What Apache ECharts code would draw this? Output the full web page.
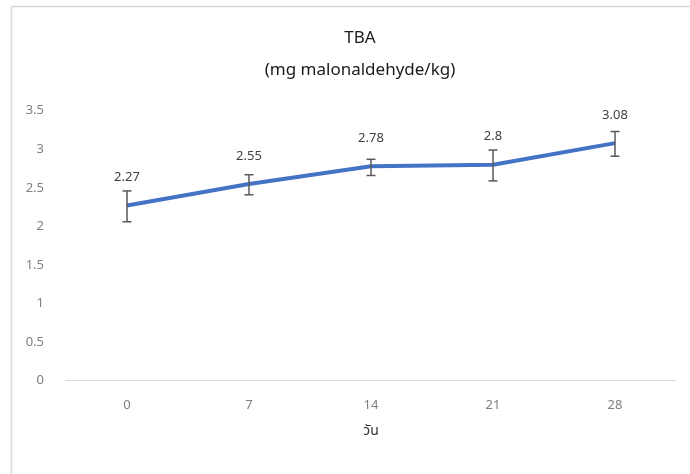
<!DOCTYPE html>
<html>
<head>
<meta charset="utf-8">
<script src="https://cdn.jsdelivr.net/npm/echarts@6/dist/echarts.min.js"></script>
<style>html,body{margin:0;padding:0;background:#fff;}#c{width:690px;height:474px;}</style>
</head>
<body>
<div id="c"></div>
<script>
const categories = ['0', '7', '14', '21', '28'];
const tbaValues = [2.27, 2.55, 2.78, 2.8, 3.08];
const errLow = [2.06, 2.41, 2.66, 2.59, 2.91];
const errHigh = [2.46, 2.67, 2.87, 2.99, 3.23];
const yTicks = [0, 0.5, 1, 1.5, 2, 2.5, 3, 3.5];

const chart = echarts.init(document.getElementById('c'));
const font = '"Noto Sans", "Noto Sans Thai", sans-serif';
chart.setOption({
  animation: false,
  backgroundColor: '#fff',
  graphic: [
    { type: 'line', shape: { x1: 11.5, y1: 6.5, x2: 690, y2: 6.5 }, style: { stroke: '#d9d9d9', lineWidth: 1.5 } },
    { type: 'line', shape: { x1: 11.5, y1: 6.5, x2: 11.5, y2: 474 }, style: { stroke: '#d9d9d9', lineWidth: 1.5 } }
  ],
  title: [
    { text: 'TBA', left: 355, top: 25, textAlign: 'center', textStyle: { fontFamily: font, fontSize: 17, fontWeight: 'normal', color: '#1a1a1a' } },
    { text: '(mg malonaldehyde/kg)', left: 355, top: 57, textAlign: 'center', textStyle: { fontFamily: font, fontSize: 17, fontWeight: 'normal', color: '#1a1a1a' } }
  ],
  grid: { left: 66, right: 14, top: 110.7, bottom: 93.3, containLabel: false },
  xAxis: {
    type: 'category',
    data: categories,
    boundaryGap: true,
    name: 'วัน',
    nameLocation: 'middle',
    nameGap: 43,
    nameTextStyle: { fontFamily: font, fontSize: 14, color: '#333' },
    axisLine: { lineStyle: { color: '#d9d9d9', width: 1 } },
    axisTick: { show: false },
    axisLabel: { fontFamily: font, fontSize: 13, color: '#808080', margin: 18 }
  },
  yAxis: {
    type: 'value',
    min: 0, max: 3.5, interval: 0.5,
    axisLine: { show: false },
    axisTick: { show: false },
    splitLine: { show: false },
    axisLabel: { fontFamily: font, fontSize: 13, color: '#808080', margin: 22,
      formatter: v => yTicks.includes(v) ? String(v) : '' }
  },
  series: [
    {
      type: 'line',
      data: tbaValues,
      symbol: 'circle',
      symbolSize: 1,
      showSymbol: true,
      itemStyle: { color: '#4472C4' },
      lineStyle: { color: '#4472C4', width: 4 },
      label: { show: true, position: 'top', distance: 21, fontFamily: font, fontSize: 13, color: '#404040' },
      labelLayout: { hideOverlap: false },
      z: 2
    },
    {
      type: 'custom',
      data: categories.map((c, i) => [i, errLow[i], errHigh[i]]),
      z: 3,
      renderItem: function (params, api) {
        const x = api.value(0);
        const lo = api.coord([x, api.value(1)]);
        const hi = api.coord([x, api.value(2)]);
        const cap = 4.5;
        const style = { stroke: '#595959', lineWidth: 1.5 };
        return {
          type: 'group',
          children: [
            { type: 'line', shape: { x1: lo[0], y1: lo[1], x2: hi[0], y2: hi[1] }, style },
            { type: 'line', shape: { x1: lo[0] - cap, y1: lo[1], x2: lo[0] + cap, y2: lo[1] }, style },
            { type: 'line', shape: { x1: hi[0] - cap, y1: hi[1], x2: hi[0] + cap, y2: hi[1] }, style }
          ]
        };
      }
    }
  ]
});
</script>
</body>
</html>
